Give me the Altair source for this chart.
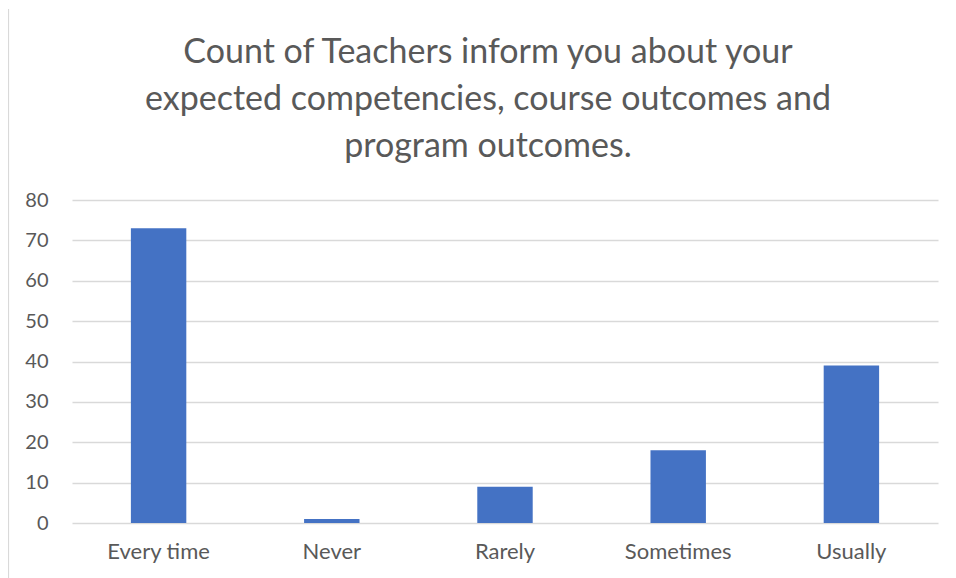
import altair as alt
import pandas as pd

categories = ["Every time", "Never", "Rarely", "Sometimes", "Usually"]
counts = [73, 1, 9, 18, 39]
title_lines = ["Count of Teachers inform you about your",
               "expected competencies, course outcomes and",
               "program outcomes."]

df = pd.DataFrame({"answer": categories, "count": counts})
df_title = pd.DataFrame({"line": title_lines, "idx": [0, 1, 2]})

FONT = "Lato"
GREY = "#595959"

bars = alt.Chart(df).mark_bar(color="#4472C4").encode(
    x=alt.X("answer:N", sort=categories, title=None,
            scale=alt.Scale(paddingInner=0.68, paddingOuter=0.34),
            axis=alt.Axis(labelAngle=0, labelFontSize=22, labelColor=GREY,
                          labelFont=FONT, ticks=False, domain=False, labelPadding=18)),
    y=alt.Y("count:Q", title=None,
            scale=alt.Scale(domain=[0, 80]),
            axis=alt.Axis(values=list(range(0, 81, 10)), labelFontSize=20,
                          labelColor=GREY, labelFont=FONT, ticks=False, domain=False,
                          gridColor="#d9d9d9", gridWidth=1.3, labelPadding=24)),
)

title = alt.Chart(df_title).mark_text(
    font=FONT, fontSize=34, color=GREY, align="center", baseline="alphabetic"
).encode(
    text="line:N",
    x=alt.value(416),
    y=alt.Y("idx:Q", scale=alt.Scale(domain=[0, 2], range=[-137, -43]), axis=None),
)

one = alt.Chart(df).transform_filter(alt.datum.answer == "Every time")
left_edge = one.mark_rule(color="#d9d9d9", strokeWidth=1.2).encode(
    x=alt.value(-63.5), y=alt.value(-191), y2=alt.value(400))

chart = alt.layer(left_edge, bars, title).resolve_scale(y="independent").properties(
    width=866, height=323,
    autosize=alt.AutoSizeParams(type="none"),
    padding={"left": 64, "top": 192, "right": 10, "bottom": 55},
).configure_view(stroke=None)

chart.save("out.html", embed_options={"renderer": "svg", "actions": False})
